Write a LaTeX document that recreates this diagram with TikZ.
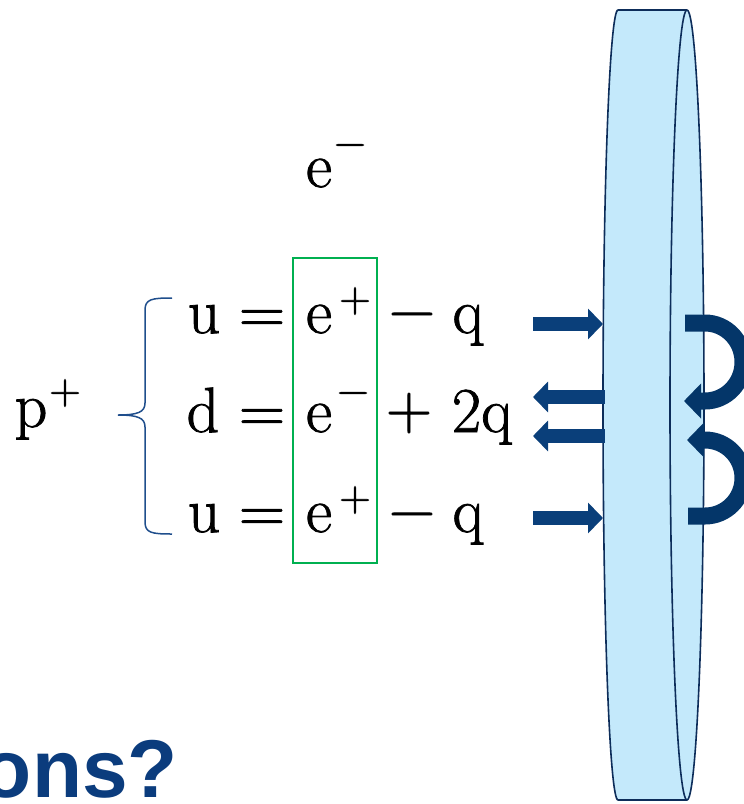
\documentclass[tikz,border=0pt]{standalone}
\usepackage{fontspec}
\newfontfamily\headfont{Liberation Sans}
\newfontfamily\eqfont{Latin Modern Roman}[FakeBold=1.2]
\usetikzlibrary{arrows.meta}
\definecolor{diskfill}{HTML}{C4E9FB}
\definecolor{diskline}{HTML}{0D2D5A}
\definecolor{arrowblue}{HTML}{0A3F7A}
\definecolor{curveblue}{HTML}{043669}
\definecolor{boxgreen}{HTML}{00B050}
\definecolor{bracecol}{HTML}{1F4E8C}
\definecolor{titleblue}{HTML}{0B3C7D}
\tikzset{
  sym/.style={inner sep=0pt, anchor=base, font=\eqfont\fontsize{64}{64}\selectfont},
  supsym/.style={inner sep=0pt, anchor=base, font=\eqfont\fontsize{44}{44}\selectfont},
  blockarrow/.style={arrowblue, line width=14pt, -{Triangle[length=15pt,width=30pt]}},
  curvearrow/.style={curveblue, line width=17pt},
  diskedge/.style={diskline, line width=1.6pt},
}
\begin{document}
\begin{tikzpicture}[x=1pt,y=-1pt]
\clip (0,0) rectangle (744,804);
\useasboundingbox (0,0) rectangle (744,804);

% disk
\fill[diskfill] (618,10) -- (687,10) arc[start angle=-90,end angle=90,x radius=17,y radius=395]
  -- (618,800) arc[start angle=90,end angle=270,x radius=15,y radius=395] -- cycle;
\draw[diskedge, line join=round] (618,10) -- (687,10) arc[start angle=-90,end angle=90,x radius=17,y radius=395]
  -- (618,800) arc[start angle=90,end angle=270,x radius=15,y radius=395] -- cycle;
\draw[diskedge] (687,10) arc[start angle=270,end angle=90,x radius=17,y radius=395];

% e- on top
\node[sym] (etop) at (319,187) {e};
\node[supsym] (etopm) at (350,156) {−};

% p+
\node[sym] (p) at (31,427) {p};
\node[supsym] (pp) at (65,404) {+};

% brace
\draw[bracecol, line width=1.5pt] (172,298) .. controls (152,298) and (145,299) .. (145,310)
  -- (145,403) .. controls (145,412) and (138,415) .. (118,415)
  .. controls (138,415) and (145,418) .. (145,427) -- (145,522)
  .. controls (145,533) and (152,534) .. (172,534);

% row 1
\node[sym] (u1) at (204,333) {u};
\node[sym] (eq1) at (262,333) {=};
\node[sym] (e1) at (319,333) {e};
\node[supsym] (e1s) at (355,312) {+};
\node[sym] (m1) at (412,330) {−};
\node[sym] (q1) at (468,333) {q};

% row 2
\node[sym] (d2) at (203,432) {d};
\node[sym] (eq2) at (262,432) {=};
\node[sym] (e2) at (319,432) {e};
\node[supsym] (e2s) at (353,404) {−};
\node[sym] (p2) at (409,429) {+};
\node[sym] (q2) at (482,432) {2q};

% row 3
\node[sym] (u3) at (204,532) {u};
\node[sym] (eq3) at (262,532) {=};
\node[sym] (e3) at (319,532) {e};
\node[supsym] (e3s) at (355,511) {+};
\node[sym] (m3) at (412,530) {−};
\node[sym] (q3) at (468,532) {q};

% green box
\draw[boxgreen, line width=1.8pt] (293,258) rectangle (377,563);

% straight arrows
\coordinate (r1s) at (533,324); \coordinate (r1e) at (603,324);
\coordinate (l1s) at (605,397); \coordinate (l1e) at (533,397);
\coordinate (l2s) at (605,436); \coordinate (l2e) at (533,436);
\coordinate (r2s) at (533,518); \coordinate (r2e) at (603,518);
\draw[blockarrow] (r1s) -- (r1e);
\draw[blockarrow] (l1s) -- (l1e);
\draw[blockarrow] (l2s) -- (l2e);
\draw[blockarrow] (r2s) -- (r2e);

% curved arrows
\coordinate (c1s) at (685,323); \coordinate (c1e) at (684,401);
\draw[curvearrow, -{Triangle[length=17pt,width=34pt]}] (c1s) -- (705,323)
  arc[start angle=-90,end angle=90,x radius=38,y radius=39] -- (c1e);
\coordinate (c2s) at (687,440); \coordinate (c2e) at (688,516);
\draw[curvearrow, {Triangle[length=17pt,width=34pt]}-] (c2s) -- (705,440)
  arc[start angle=-90,end angle=90,x radius=38,y radius=38] -- (c2e);

% title fragment
\node[inner sep=0pt, anchor=base east, text=titleblue, font=\headfont\bfseries\fontsize{82}{82}\selectfont] (title) at (178,797) {ons?};
\end{tikzpicture}
\end{document}
